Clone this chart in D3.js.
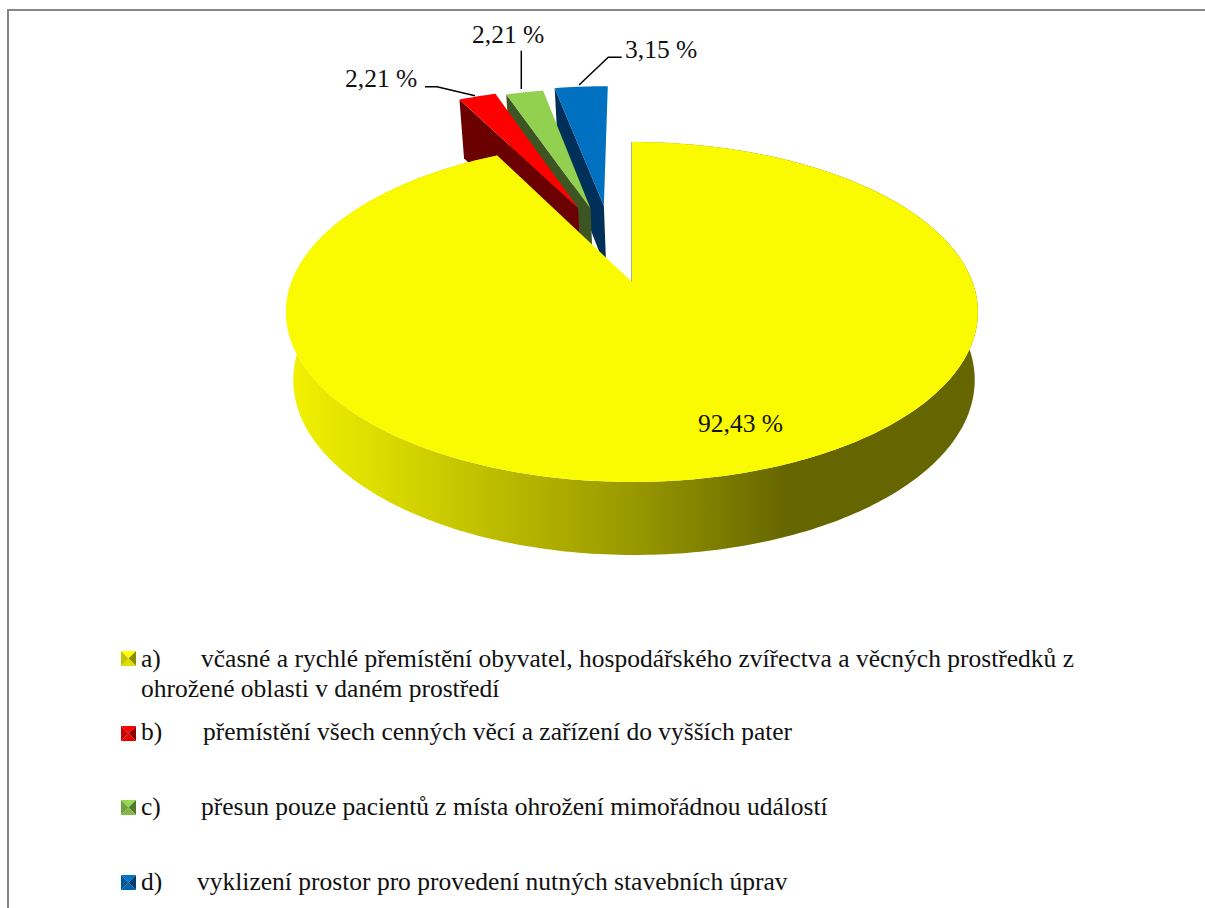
<!DOCTYPE html>
<html><head><meta charset="utf-8">
<script src="https://cdn.jsdelivr.net/npm/d3@7"></script>
<style>html,body{margin:0;background:#fff}svg{display:block}text{font-family:"Liberation Serif","Times New Roman",serif;fill:#111}</style>
</head><body><svg id="c" width="1205" height="908"></svg>
<script>
const categories = ["a","b","c","d"];
const values = [92.43, 2.21, 2.21, 3.15];
const valueLabels = ["92,43 %","2,21 %","2,21 %","3,15 %"];
const topColors = ["#fafa00","#ff0000","#92d050","#0070c0"];
const wallColors = ["#666600","#6b0000","#3d5522","#00305a"];
const explodeU = [0, -0.172, -0.132, -0.09];
const explodeV = [0, -0.488, -0.482, -0.505];
const legendLines = [
  [["a)",141,667],["včasné a rychlé přemístění obyvatel, hospodářského zvířectva a věcných prostředků z",201,667],["ohrožené oblasti v daném prostředí",141,697]],
  [["b)",141,740],["přemístění všech cenných věcí a zařízení do vyšších pater",203,740]],
  [["c)",141,815],["přesun pouze pacientů z místa ohrožení mimořádnou událostí",201,815]],
  [["d)",141,890],["vyklizení prostor pro provedení nutných stavebních úprav",197,890]]
];
const swatchTops = [651,726,800,875];

const svg = d3.select("#c");
const W = 1205, H = 908;
// frame
svg.append("path").attr("d",`M8 ${H}V10H${W}`).attr("fill","none").attr("stroke","#868686").attr("stroke-width",2);

// perspective projection of the unit disc
const cx=632, R=340.5, c0=-0.1765, a0=114.9, y0=282;
const proj=(u,v)=>{const d=1+c0*v; return [cx+R*u/d,(a0*v+y0)/d];};
const lower=(p,v)=>[634+(p[0]-632)*0.985, p[1]+67+6*v];
const pie=d3.pie().sort(null).value(d=>d)(values);
const line=d3.line();
const defs=svg.append("defs");
const g=defs.append("linearGradient").attr("id","rim").attr("gradientUnits","userSpaceOnUse").attr("x1",288).attr("x2",980).attr("y1",0).attr("y2",0);
[[0,"#f2f200"],[0.12,"#dede00"],[0.3,"#bcbc00"],[0.5,"#989800"],[0.72,"#666600"],[1,"#666600"]].forEach(s=>g.append("stop").attr("offset",s[0]).attr("stop-color",s[1]));

const order=[3,2,1,0];
order.forEach(i=>{
  const s=pie[i], ou=explodeU[i], ov=explodeV[i];
  const P=(r,t)=>{const u=ou+r*Math.sin(t), v=ov-r*Math.cos(t); return {p:proj(u,v),v};};
  const apex=P(0,0);
  const n=Math.max(8,Math.ceil((s.endAngle-s.startAngle)*60));
  const rim=d3.range(n+1).map(k=>P(1,s.startAngle+(s.endAngle-s.startAngle)*k/n));
  const gs=svg.append("g").attr("class","slice-"+categories[i]);
  if(i===0){
    // outer wall
    const topPts=rim.map(r=>r.p), botPts=rim.map(r=>lower(r.p,r.v)).reverse();
    gs.append("path").attr("d",line(topPts.concat(botPts))+"Z").attr("fill","url(#rim)");
    gs.append("path").attr("d",line([rim[0].p,apex.p])).attr("stroke",wallColors[0]).attr("stroke-width",1).attr("fill","none");
  } else {
    // radial wall on the start edge
    const a=rim[0];
    gs.append("path").attr("d",line([a.p,apex.p,lower(apex.p,apex.v),lower(a.p,a.v)])+"Z").attr("fill",wallColors[i]);
  }
  gs.append("path").attr("d",line([apex.p].concat(rim.map(r=>r.p)))+"Z").attr("fill",topColors[i]);
});

// leader lines
const leaders=[[[425,86.7],[437,86.7],[475,95.7]],[[521.3,50.7],[521.3,89]],[[621.7,57.3],[608.3,57.3],[579,85]]];
leaders.forEach(l=>svg.append("path").attr("d",line(l)).attr("fill","none").attr("stroke","#000").attr("stroke-width",1.5));

// value labels
const labelPos=[[698,432],[345,87],[472,43],[625,58]];
valueLabels.forEach((t,i)=>svg.append("text").attr("x",labelPos[i][0]).attr("y",labelPos[i][1]).attr("font-size",25.5).text(t));

// legend
legendLines.forEach((rows,i)=>{
  rows.forEach(r=>svg.append("text").attr("x",r[1]).attr("y",r[2]).attr("font-size",25.5).text(r[0]));
  const x=121,y=swatchTops[i],sz=15,m=sz/2,col=d3.color(topColors[i]);
  const sw=svg.append("g").attr("transform",`translate(${x},${y})`);
  const tris=[
    [[[0,0],[sz,0],[m,m]],col.brighter(0.1)],
    [[[sz,0],[sz,sz],[m,m]],col.darker(1.6)],
    [[[0,sz],[sz,sz],[m,m]],col.darker(0.35)],
    [[[0,0],[0,sz],[m,m]],col.darker(0.7)]
  ];
  tris.forEach(t=>sw.append("path").attr("d",line(t[0])+"Z").attr("fill",t[1]));
});
</script></body></html>
